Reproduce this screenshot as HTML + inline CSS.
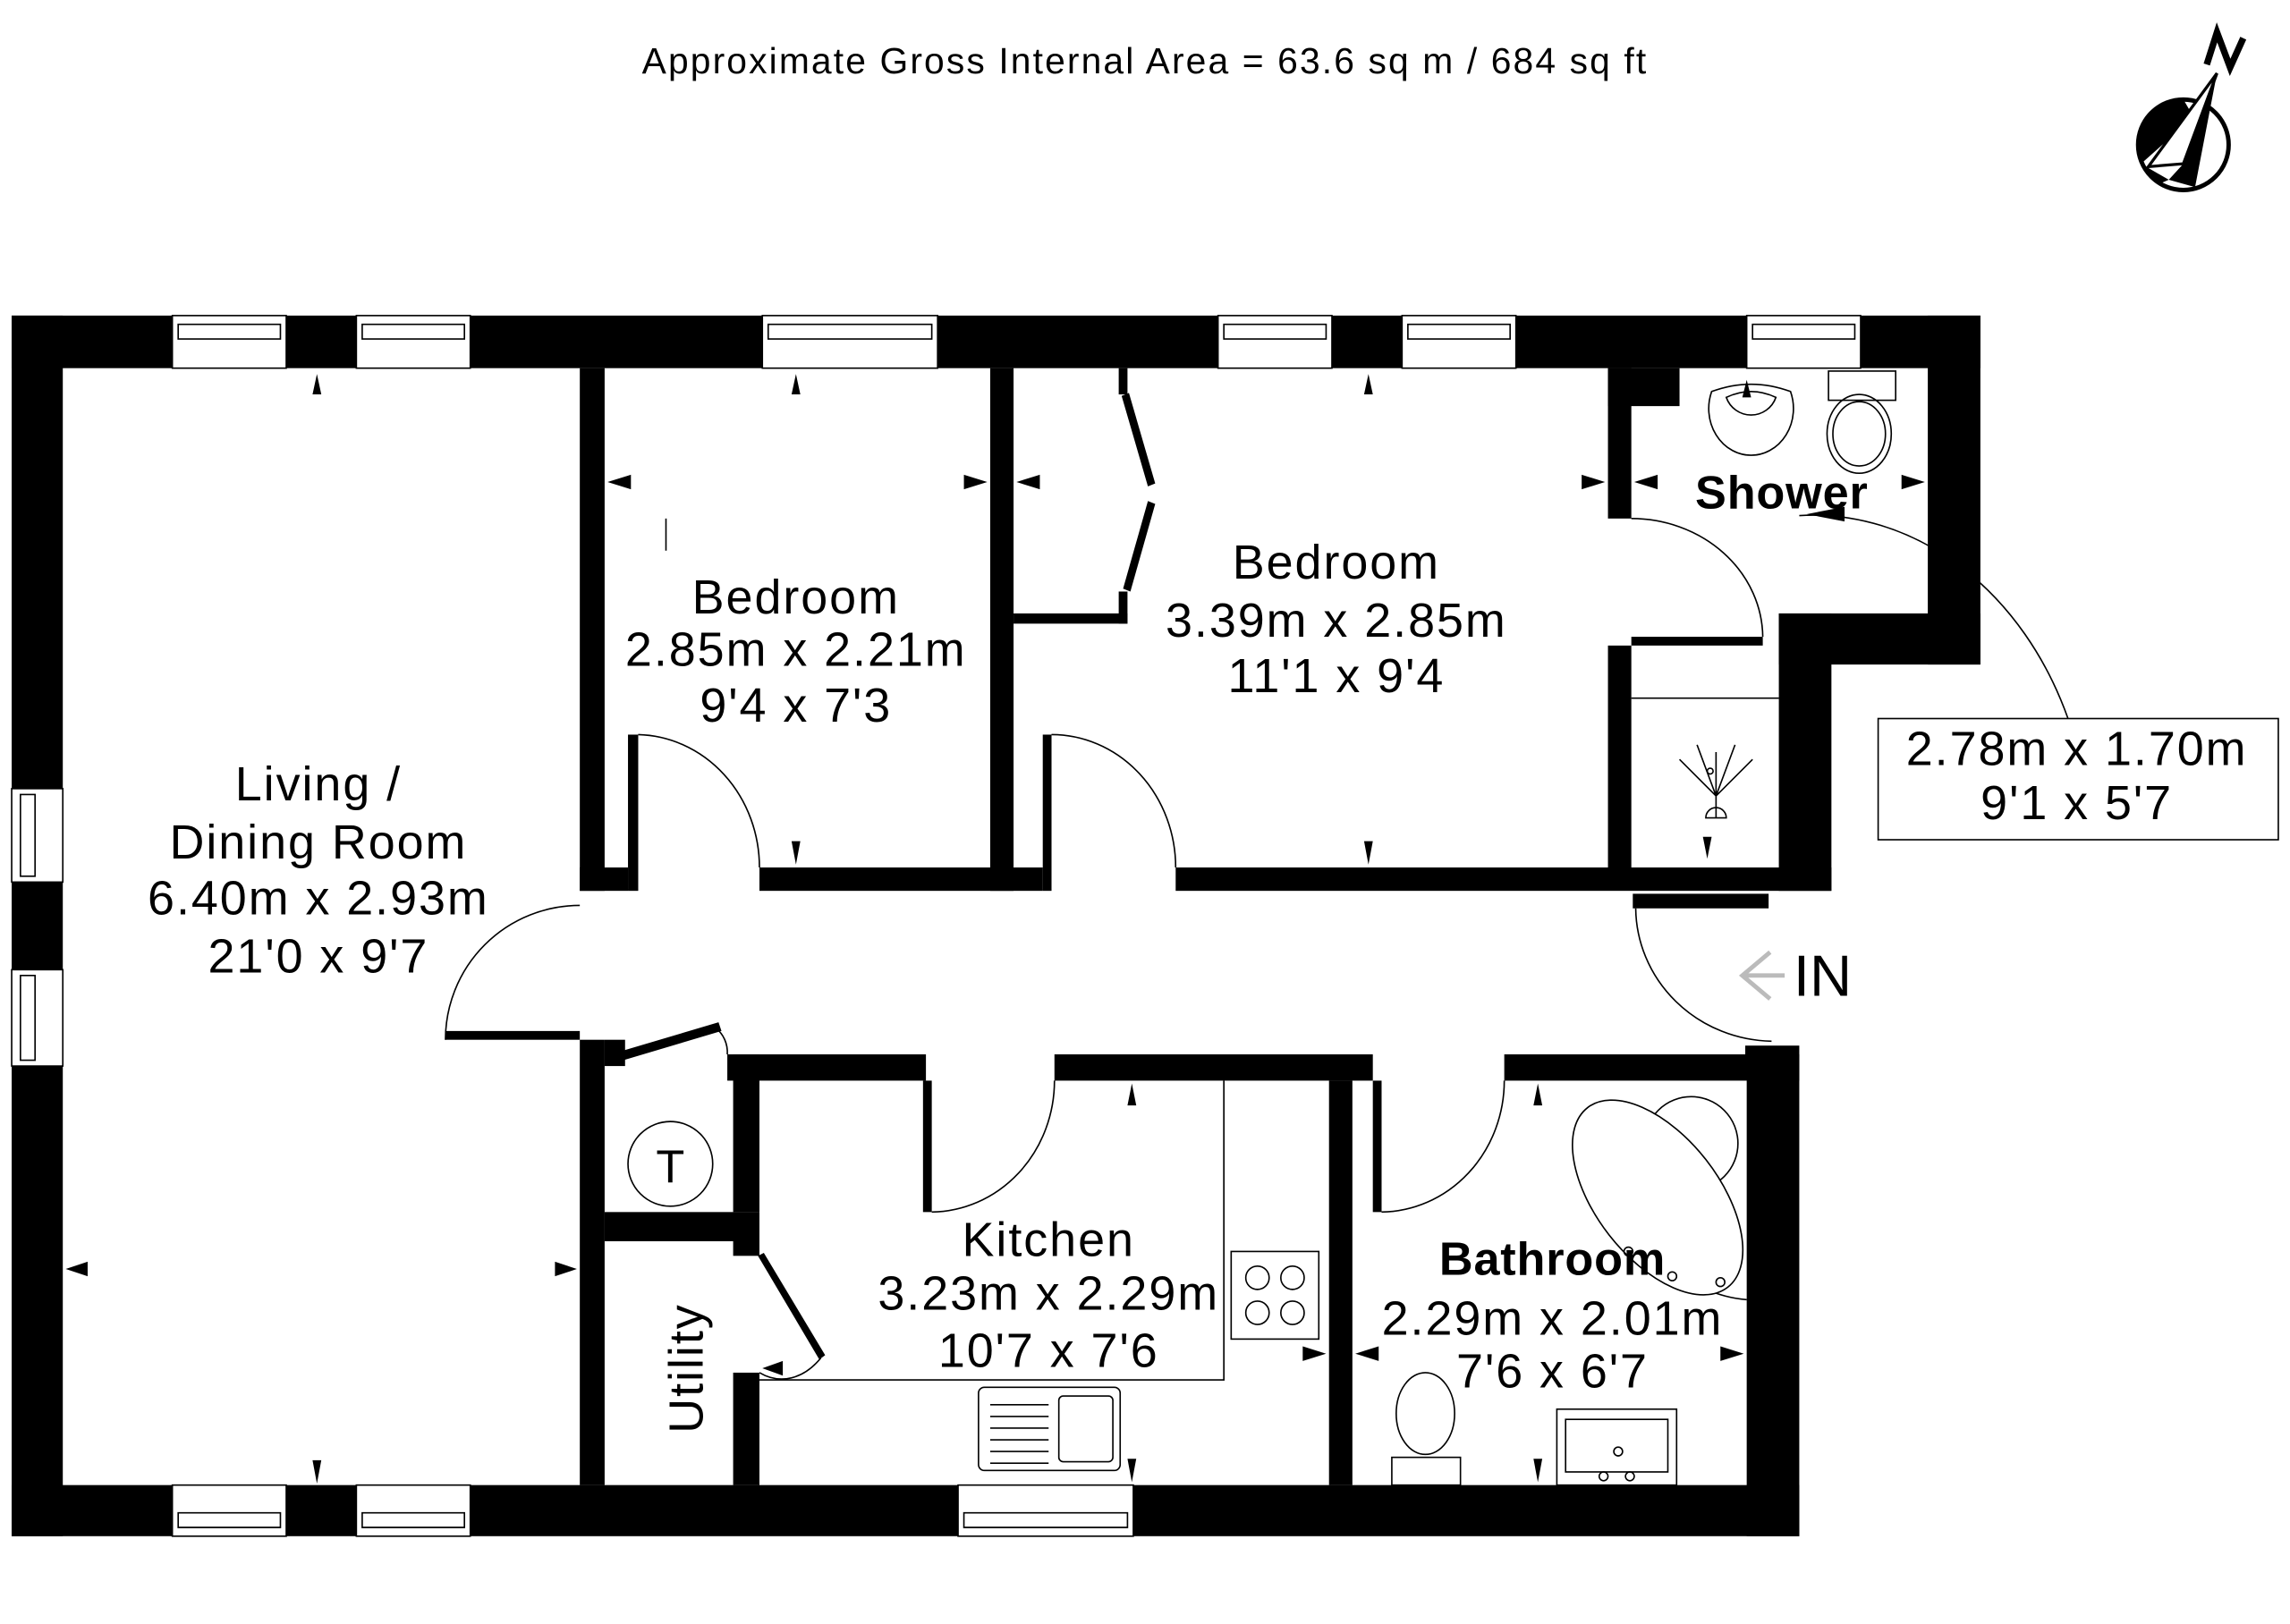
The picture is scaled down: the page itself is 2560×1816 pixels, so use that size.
<!DOCTYPE html>
<html><head><meta charset="utf-8"><style>
html,body{margin:0;padding:0;background:#fff;}
svg{display:block;}
text{font-family:"Liberation Sans",sans-serif;fill:#000;}
</style></head><body>
<svg width="2560" height="1816" viewBox="0 0 1568 1112" xmlns="http://www.w3.org/2000/svg">
<rect width="1568" height="1112" fill="#fff"/>
<text x="784" y="50" font-size="25" text-anchor="middle" letter-spacing="1.3">Approximate Gross Internal Area = 63.6 sq m / 684 sq ft</text>
<g>
<circle cx="1495" cy="99" r="31" fill="#fff" stroke="#000" stroke-width="3"/>
<path d="M1495,68 A31,31 0 0,0 1466,112 L1502,80 Z" fill="#000"/>
<polygon points="1471,114 1518,50 1495,112" fill="#fff" stroke="#000" stroke-width="2"/>
<polygon points="1518,50 1495,112 1485,123 1503,128" fill="#000"/>
<path d="M1466,112 L1478,126 L1485,123 Z" fill="#000"/>
<polyline points="1511,44 1518,22 1527,46 1536,26" fill="none" stroke="#000" stroke-width="4.5"/>
</g>
<g fill="#000">
<rect x="8" y="216" width="1348" height="36"/>
<rect x="8" y="216" width="35" height="836"/>
<rect x="8" y="1017" width="1224" height="35"/>
<rect x="1320" y="216" width="36" height="239"/>
<rect x="1218" y="420" width="138" height="35"/>
<rect x="1218" y="420" width="36" height="190"/>
<rect x="1196" y="722" width="36" height="330"/>
<rect x="1030" y="722" width="202" height="18"/>
<rect x="397" y="252" width="17" height="358"/>
<rect x="397" y="594" width="33" height="16"/>
<rect x="430" y="503" width="7" height="107"/>
<rect x="678" y="252" width="16" height="358"/>
<rect x="520" y="594" width="194" height="16"/>
<rect x="714" y="503" width="6" height="107"/>
<rect x="805" y="594" width="449" height="16"/>
<rect x="1101" y="252" width="16" height="103"/>
<rect x="1101" y="252" width="49" height="26"/>
<rect x="1101" y="442" width="16" height="160"/>
<rect x="1117" y="436" width="90" height="6"/>
<rect x="1195" y="600" width="32" height="5"/>
<rect x="1118" y="612" width="93" height="10"/>
<rect x="1195" y="716" width="37" height="8"/>
<rect x="305" y="706" width="92" height="6"/>
<rect x="397" y="712" width="17" height="305"/>
<rect x="414" y="712" width="14" height="18"/>
<polygon points="418,722 492,700 494,706 420,728"/>
<rect x="498" y="722" width="136" height="18"/>
<rect x="502" y="722" width="18" height="108"/>
<rect x="414" y="830" width="106" height="20"/>
<rect x="502" y="850" width="18" height="10"/>
<rect x="502" y="940" width="18" height="77"/>
<polygon points="519,860 523,858 565,928 561,931"/>
<rect x="632" y="740" width="6" height="90"/>
<rect x="722" y="722" width="218" height="18"/>
<rect x="910" y="740" width="16" height="277"/>
<rect x="940" y="740" width="6" height="90"/>
<rect x="694" y="420" width="78" height="7"/>
<rect x="766" y="405" width="6" height="22"/>
<rect x="766" y="252" width="6" height="18"/>
<polygon points="768,271 773,269 791,331 786,333"/>
<polygon points="786,343 791,345 774,405 769,403"/>
</g>
<g fill="#fff" stroke="#000" stroke-width="1">
<rect x="118" y="216" width="78" height="36"/><rect x="244" y="216" width="78" height="36"/>
<rect x="522" y="216" width="120" height="36"/><rect x="834" y="216" width="78" height="36"/>
<rect x="960" y="216" width="78" height="36"/><rect x="1196" y="216" width="78" height="36"/>
<rect x="118" y="1017" width="78" height="35"/><rect x="244" y="1017" width="78" height="35"/>
<rect x="656" y="1017" width="120" height="35"/>
<rect x="8" y="540" width="35" height="64"/><rect x="8" y="664" width="35" height="66"/>
</g>
<g stroke="#000" stroke-width="1" fill="none">
<path d="M122,222 H192 V232 H122 Z M248,222 H318 V232 H248 Z M526,222 H638 V232 H526 Z M838,222 H908 V232 H838 Z M964,222 H1034 V232 H964 Z M1200,222 H1270 V232 H1200 Z"/>
<path d="M122,1036 H192 V1046 H122 Z M248,1036 H318 V1046 H248 Z M660,1036 H772 V1046 H660 Z"/>
<path d="M14,544 V600 H24 V544 Z M14,668 V726 H24 V668 Z"/>
<path d="M437,503 A85,91 0 0,1 520,594"/>
<path d="M720,503 A85,91 0 0,1 805,594"/>
<path d="M1117,355 A90,82 0 0,1 1207,436"/>
<path d="M397,620 A92,92 0 0,0 305,712"/>
<path d="M722,740 A85,90 0 0,1 638,830"/>
<path d="M1030,740 A85,90 0 0,1 946,830"/>
<path d="M520,940 A44,70 0 0,0 562,930"/>
<path d="M490,704 A18,20 0 0,1 498,722"/>
<path d="M1120,622 A95,92 0 0,0 1213,713"/>
<path d="M1232,353 A190,230 0 0,1 1416,492"/>
<line x1="1117" y1="478" x2="1218" y2="478"/>
<path d="M520,945 H838 V740"/>
<rect x="1286" y="492" width="274" height="83"/>
<circle cx="459" cy="797" r="29"/>
<rect x="843" y="857" width="60" height="60"/>
<circle cx="861" cy="875" r="8"/><circle cx="885" cy="875" r="8"/><circle cx="861" cy="899" r="8"/><circle cx="885" cy="899" r="8"/>
<rect x="670" y="950" width="97" height="57" rx="4"/><rect x="725" y="956" width="37" height="45" rx="3"/>
<path d="M678,962H718M678,970H718M678,978H718M678,986H718M678,994H718M678,1002H718"/>
<rect x="1066" y="965" width="82" height="52"/><rect x="1072" y="972" width="70" height="36"/>
<circle cx="1108" cy="994" r="3"/><circle cx="1098" cy="1011" r="3"/><circle cx="1116" cy="1011" r="3"/>
<rect x="953" y="998" width="47" height="19"/><ellipse cx="976" cy="968" rx="20" ry="28"/>
<path d="M1083,764 A130,210 0 0,0 1196,890"/>
<circle cx="1158" cy="783" r="32" fill="#fff"/>
<ellipse cx="1135" cy="820" rx="42" ry="78" transform="rotate(-38 1135 820)" fill="#fff"/>
<circle cx="1115" cy="857" r="3"/><circle cx="1145" cy="874" r="3"/><circle cx="1178" cy="878" r="3"/>
<path d="M1175,515 V560 M1168,560 a7,7 0 0,1 14,0 Z M1175,545 L1150,520 M1175,545 L1200,520 M1175,545 L1162,510 M1175,545 L1188,510"/>
<circle cx="1171" cy="528" r="2"/>
<path d="M1172,268 A29,32 0 1,0 1226,268 Q1199,258 1172,268 Z"/>
<path d="M1182,272 A18,18 0 0,0 1216,272 Q1199,264 1182,272 Z"/>
<rect x="1252" y="254" width="46" height="20"/><ellipse cx="1273" cy="297" rx="22" ry="27"/><ellipse cx="1273" cy="297" rx="18" ry="22"/>
<line x1="456" y1="355" x2="456" y2="377"/>
</g>
<g fill="#000">
<polygon points="217,256 214,270 220,270"/><polygon points="217,1016 214,1000 220,1000"/>
<polygon points="45,869 60,864 60,874"/><polygon points="395,869 380,864 380,874"/>
<polygon points="545,256 542,270 548,270"/><polygon points="545,592 542,576 548,576"/>
<polygon points="416,330 432,325 432,335"/><polygon points="676,330 660,325 660,335"/>
<polygon points="937,256 934,270 940,270"/><polygon points="937,592 934,576 940,576"/>
<polygon points="696,330 712,325 712,335"/><polygon points="1099,330 1083,325 1083,335"/>
<polygon points="1119,330 1135,325 1135,335"/><polygon points="1318,330 1302,325 1302,335"/>
<polygon points="1196,260 1193,272 1199,272"/>
<polygon points="1237,352 1263,347 1263,357"/>
<polygon points="1169,588 1166,573 1172,573"/>
<polygon points="775,742 772,757 778,757"/><polygon points="775,1015 772,999 778,999"/>
<polygon points="522,937 536,932 536,942"/><polygon points="908,927 892,922 892,932"/>
<polygon points="1053,742 1050,757 1056,757"/><polygon points="1053,1015 1050,999 1056,999"/>
<polygon points="928,927 944,922 944,932"/><polygon points="1194,927 1178,922 1178,932"/>
</g>
<path d="M1212,652 L1193,668 L1212,684 M1195,668 H1222" fill="none" stroke="#bbb" stroke-width="3"/>
<text x="1228" y="682" font-size="40">IN</text>
<g font-size="33" text-anchor="middle" letter-spacing="1.2">
<text x="218" y="548">Living /</text><text x="218" y="588">Dining Room</text><text x="218" y="626">6.40m x 2.93m</text><text x="218" y="666">21'0 x 9'7</text>
<text x="545" y="420">Bedroom</text><text x="545" y="456">2.85m x 2.21m</text><text x="545" y="494">9'4 x 7'3</text>
<text x="915" y="396">Bedroom</text><text x="915" y="436">3.39m x 2.85m</text><text x="915" y="474">11'1 x 9'4</text>
<text x="1220" y="348" font-weight="bold" font-size="32" letter-spacing="0.5">Shower</text>
<text x="718" y="860">Kitchen</text><text x="718" y="897">3.23m x 2.29m</text><text x="718" y="936">10'7 x 7'6</text>
<text x="1063" y="873" font-weight="bold" font-size="32" letter-spacing="0.5">Bathroom</text><text x="1063" y="914">2.29m x 2.01m</text><text x="1063" y="950">7'6 x 6'7</text>
<text x="1422" y="524">2.78m x 1.70m</text><text x="1422" y="561">9'1 x 5'7</text>
<text x="470" y="937" transform="rotate(-90 470 937)" dy="11">Utility</text>
<text x="459" y="810" font-size="32" letter-spacing="0">T</text>
</g>
</svg>
</body></html>
